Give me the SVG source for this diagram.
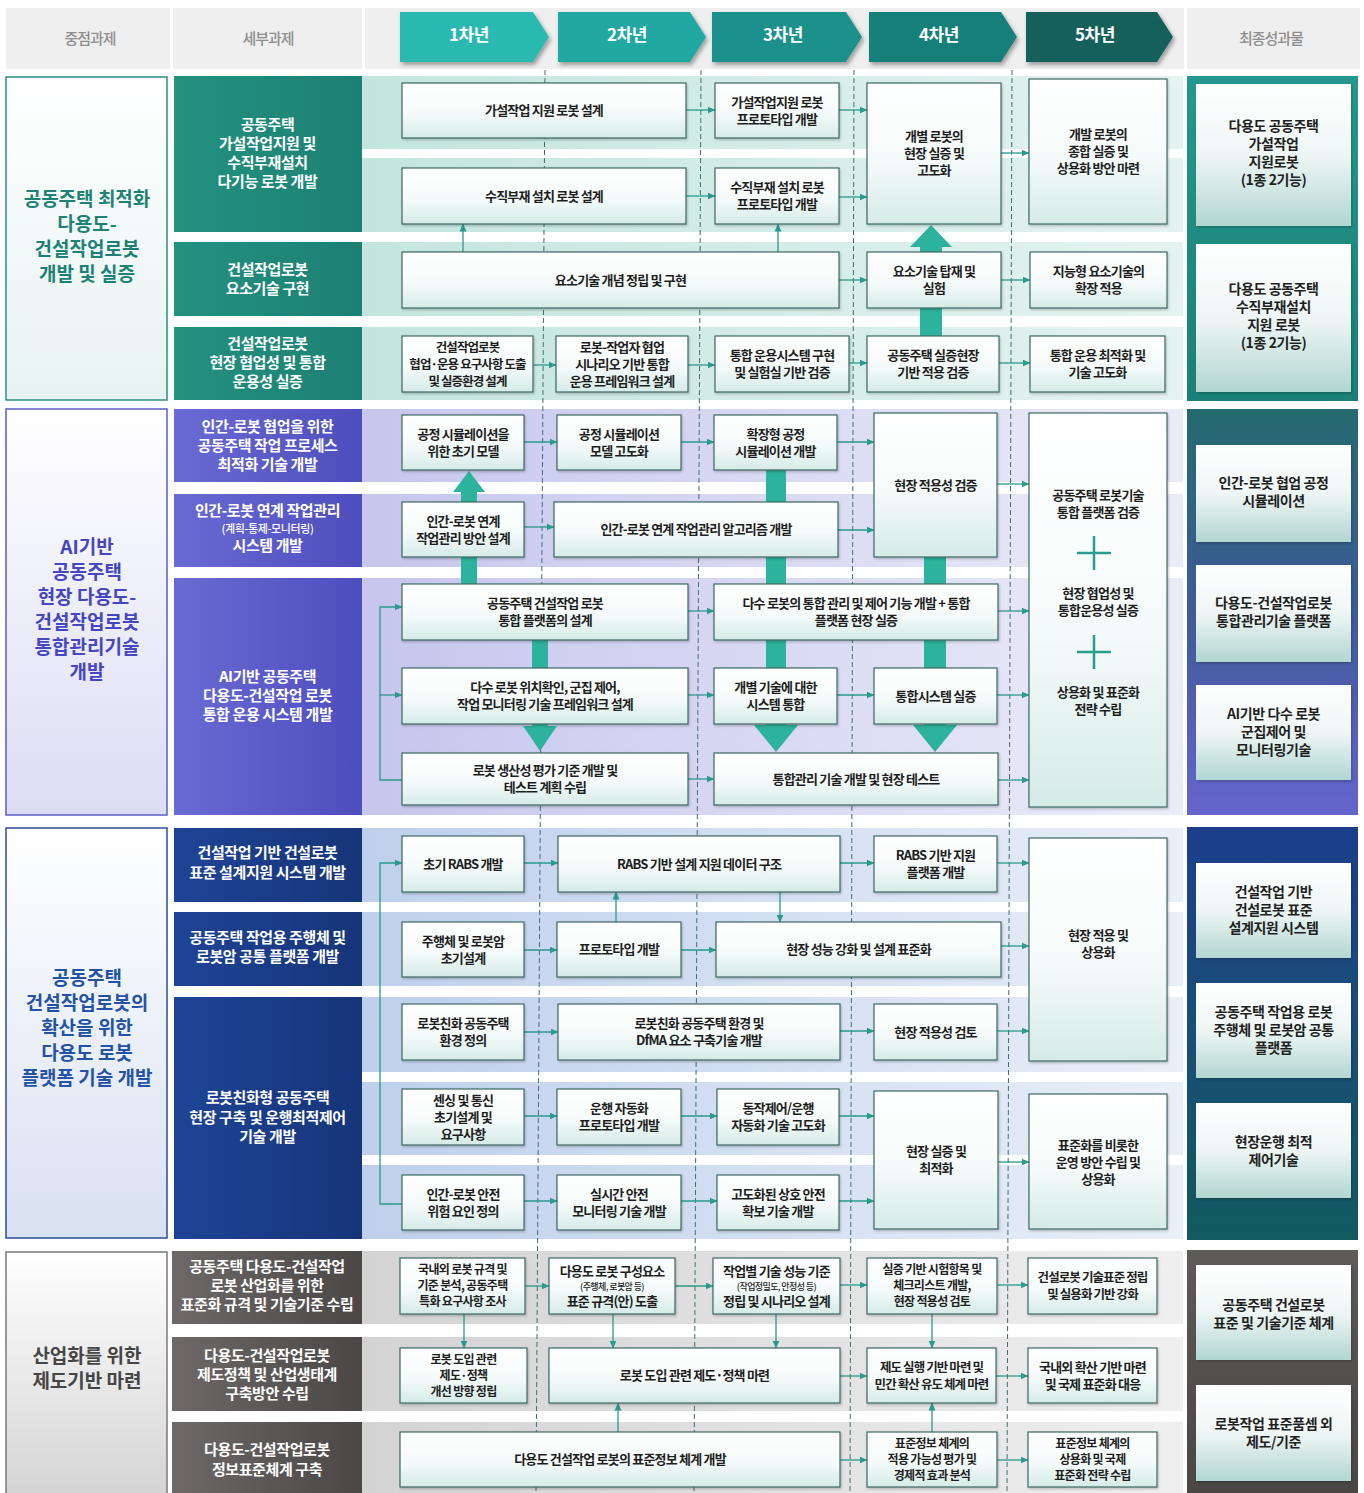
<svg xmlns="http://www.w3.org/2000/svg" width="1364" height="1493" viewBox="0 0 1364 1493">
<defs>
<style>
text{font-family:"Noto Sans CJK KR","Noto Sans",sans-serif;font-weight:700;}
.hd{font-size:15px;fill:#8e8e8e;text-anchor:middle;letter-spacing:-1px;font-weight:500}
.yr{font-size:17px;fill:#ffffff;text-anchor:middle;letter-spacing:-0.5px}
.mt{font-size:19px;text-anchor:middle;letter-spacing:0px}
.st{font-size:15px;fill:#ffffff;text-anchor:middle;letter-spacing:-0.4px}
.nd rect{fill:url(#gNode);stroke:#3d6864;stroke-width:1.2;filter:url(#sh)}
.nd text{font-size:13px;fill:#1e1e1e;text-anchor:middle;letter-spacing:-0.8px}
.nd text.s12{font-size:12.5px;letter-spacing:-0.9px}
.nd text.s11{font-size:12px;letter-spacing:-0.7px}
.nd text.s9{font-size:9px;letter-spacing:-0.6px;font-weight:500}
.dl rect{fill:url(#gDel);filter:url(#sh)}
.dl text{font-size:14px;fill:#1f1f1f;text-anchor:middle;letter-spacing:-0.4px}
.ln{fill:none;stroke:#2a9a8c;stroke-width:1.3;marker-end:url(#ah)}
.big{fill:#2db39d}
.dash{stroke:#3f6f6c;stroke-width:1;stroke-dasharray:5 3}
.plus{stroke:#2a9d8f;stroke-width:2.5}
</style>
<linearGradient id="gNode" x1="0" y1="0" x2="0" y2="1"><stop offset="0" stop-color="#ffffff"/><stop offset="0.55" stop-color="#f5fbfa"/><stop offset="1" stop-color="#d5ebe7"/></linearGradient>
<linearGradient id="gDel" x1="0" y1="0" x2="0" y2="1"><stop offset="0" stop-color="#ffffff"/><stop offset="0.5" stop-color="#eef6f5"/><stop offset="1" stop-color="#b2d6d1"/></linearGradient>
<linearGradient id="gR1" x1="0" y1="0" x2="1" y2="0"><stop offset="0" stop-color="#c4e5df"/><stop offset="1" stop-color="#e4f3f0"/></linearGradient>
<linearGradient id="gR2" x1="0" y1="0" x2="1" y2="0"><stop offset="0" stop-color="#c6c6ee"/><stop offset="1" stop-color="#ececf9"/></linearGradient>
<linearGradient id="gR3" x1="0" y1="0" x2="1" y2="0"><stop offset="0" stop-color="#bfd0ec"/><stop offset="1" stop-color="#e9eff8"/></linearGradient>
<linearGradient id="gR4" x1="0" y1="0" x2="1" y2="0"><stop offset="0" stop-color="#d3d3d3"/><stop offset="1" stop-color="#efefef"/></linearGradient>
<linearGradient id="gS1" x1="0" y1="0" x2="1" y2="0"><stop offset="0" stop-color="#24917f"/><stop offset="1" stop-color="#1c8074"/></linearGradient>
<linearGradient id="gS2" x1="0" y1="0" x2="1" y2="0"><stop offset="0" stop-color="#6a6ad4"/><stop offset="1" stop-color="#4d4ebd"/></linearGradient>
<linearGradient id="gS3" x1="0" y1="0" x2="1" y2="0"><stop offset="0" stop-color="#1f4496"/><stop offset="1" stop-color="#163579"/></linearGradient>
<linearGradient id="gS4" x1="0" y1="0" x2="1" y2="0"><stop offset="0" stop-color="#6e6868"/><stop offset="1" stop-color="#4b4747"/></linearGradient>
<linearGradient id="gL1" x1="0" y1="0" x2="0" y2="1"><stop offset="0" stop-color="#ffffff"/><stop offset="1" stop-color="#e6f3f1"/></linearGradient>
<linearGradient id="gL2" x1="0" y1="0" x2="0" y2="1"><stop offset="0" stop-color="#ffffff"/><stop offset="1" stop-color="#dcdcf4"/></linearGradient>
<linearGradient id="gL3" x1="0" y1="0" x2="0" y2="1"><stop offset="0" stop-color="#ffffff"/><stop offset="1" stop-color="#d8e1f1"/></linearGradient>
<linearGradient id="gL4" x1="0" y1="0" x2="0" y2="1"><stop offset="0" stop-color="#ffffff"/><stop offset="1" stop-color="#d4d4d4"/></linearGradient>
<linearGradient id="gP1" x1="0" y1="0" x2="0" y2="1"><stop offset="0" stop-color="#25978c"/><stop offset="1" stop-color="#1a8076"/></linearGradient>
<linearGradient id="gP2" x1="0" y1="0" x2="0" y2="1"><stop offset="0" stop-color="#246a6e"/><stop offset="0.5" stop-color="#3f5a98"/><stop offset="1" stop-color="#6565cc"/></linearGradient>
<linearGradient id="gP3" x1="0" y1="0" x2="0" y2="1"><stop offset="0" stop-color="#1c3f8c"/><stop offset="0.45" stop-color="#1a4c78"/><stop offset="1" stop-color="#115a5e"/></linearGradient>
<linearGradient id="gP4" x1="0" y1="0" x2="0" y2="1"><stop offset="0" stop-color="#5e5a5a"/><stop offset="1" stop-color="#4a4646"/></linearGradient>
<filter id="sh" x="-5%" y="-5%" width="115%" height="120%"><feDropShadow dx="1" dy="1.5" stdDeviation="1" flood-color="#000000" flood-opacity="0.22"/></filter>
<filter id="ash" x="-10%" y="-20%" width="125%" height="150%"><feDropShadow dx="2" dy="3" stdDeviation="2" flood-color="#000000" flood-opacity="0.35"/></filter>
<marker id="ah" viewBox="0 0 8 8" refX="7.5" refY="4" markerWidth="8" markerHeight="8" markerUnits="userSpaceOnUse" orient="auto"><path d="M0,0.5 L8,4 L0,7.5 Z" fill="#2a9a8c"/></marker>
</defs>

<rect width="1364" height="1493" fill="#ffffff"/>

<!-- header band -->
<g id="header">
<rect x="6" y="8" width="1354" height="61" fill="#efefef"/>
<rect x="170" y="8" width="3" height="61" fill="#ffffff"/>
<rect x="362" y="8" width="3" height="61" fill="#ffffff"/>
<rect x="1184" y="8" width="3" height="61" fill="#ffffff"/>
<text class="hd" x="90" y="44">중점과제</text>
<text class="hd" x="268" y="44">세부과제</text>
<text class="hd" x="1271" y="44">최종성과물</text>
<g filter="url(#ash)">
<path d="M400,12 H533 L549,37 L533,62 H400 Z" fill="#2bb9b1"/>
<path d="M558,12 H690 L706,37 L690,62 H558 Z" fill="#24a8a3"/>
<path d="M712,12 H846 L862,37 L846,62 H712 Z" fill="#1c918b"/>
<path d="M869,12 H1001 L1017,37 L1001,62 H869 Z" fill="#177f79"/>
<path d="M1026,12 H1157 L1173,37 L1157,62 H1026 Z" fill="#12615b"/>
</g>
<text class="yr" x="469" y="41">1차년</text>
<text class="yr" x="627" y="41">2차년</text>
<text class="yr" x="783" y="41">3차년</text>
<text class="yr" x="939" y="41">4차년</text>
<text class="yr" x="1095" y="41">5차년</text>
</g>

<!-- section 1: 공동주택 최적화 -->
<g id="sec1">
<rect x="362" y="76" width="821" height="73" fill="url(#gR1)"/>
<rect x="362" y="158" width="821" height="74" fill="url(#gR1)"/>
<rect x="362" y="242" width="821" height="74" fill="url(#gR1)"/>
<rect x="362" y="327" width="821" height="73" fill="url(#gR1)"/>
<rect x="6" y="77" width="161" height="323" fill="url(#gL1)" stroke="#2a8f82" stroke-width="1.5"/>
<text class="mt" fill="#1d8275"><tspan x="87" y="206">공동주택 최적화</tspan><tspan x="87" y="231">다용도-</tspan><tspan x="87" y="256">건설작업로봇</tspan><tspan x="87" y="281">개발 및 실증</tspan></text>
<rect x="174" y="76" width="188" height="156" fill="url(#gS1)"/>
<rect x="174" y="242" width="188" height="74" fill="url(#gS1)"/>
<rect x="174" y="327" width="188" height="73" fill="url(#gS1)"/>
<text class="st"><tspan x="267.5" y="130">공동주택</tspan><tspan x="267.5" y="149">가설작업지원 및</tspan><tspan x="267.5" y="168">수직부재설치</tspan><tspan x="267.5" y="187">다기능 로봇 개발</tspan></text>
<text class="st"><tspan x="267.5" y="275">건설작업로봇</tspan><tspan x="267.5" y="294">요소기술 구현</tspan></text>
<text class="st"><tspan x="267.5" y="349">건설작업로봇</tspan><tspan x="267.5" y="368">현장 협업성 및 통합</tspan><tspan x="267.5" y="387">운용성 실증</tspan></text>
<rect x="1187" y="76" width="171" height="325" fill="url(#gP1)"/>
</g>

<!-- section 2: AI기반 통합관리 -->
<g id="sec2">
<rect x="362" y="409" width="821" height="73" fill="url(#gR2)"/>
<rect x="362" y="494" width="821" height="73" fill="url(#gR2)"/>
<rect x="362" y="578" width="821" height="237" fill="url(#gR2)"/>
<rect x="6" y="409" width="161" height="406" fill="url(#gL2)" stroke="#5b5bc5" stroke-width="1.5"/>
<text class="mt" fill="#4646c0"><tspan x="87" y="554">AI기반</tspan><tspan x="87" y="579">공동주택</tspan><tspan x="87" y="604">현장 다용도-</tspan><tspan x="87" y="629">건설작업로봇</tspan><tspan x="87" y="654">통합관리기술</tspan><tspan x="87" y="679">개발</tspan></text>
<rect x="174" y="409" width="188" height="73" fill="url(#gS2)"/>
<rect x="174" y="494" width="188" height="73" fill="url(#gS2)"/>
<rect x="174" y="578" width="188" height="237" fill="url(#gS2)"/>
<text class="st"><tspan x="267.5" y="432">인간-로봇 협업을 위한</tspan><tspan x="267.5" y="451">공동주택 작업 프로세스</tspan><tspan x="267.5" y="470">최적화 기술 개발</tspan></text>
<text class="st"><tspan x="267.5" y="516">인간-로봇 연계 작업관리</tspan><tspan x="267.5" y="533" style="font-size:11px;font-weight:500">(계획-통제-모니터링)</tspan><tspan x="267.5" y="551">시스템 개발</tspan></text>
<text class="st"><tspan x="267.5" y="682">AI기반 공동주택</tspan><tspan x="267.5" y="701">다용도-건설작업 로봇</tspan><tspan x="267.5" y="720">통합 운용 시스템 개발</tspan></text>
<rect x="1187" y="409" width="171" height="406" fill="url(#gP2)"/>
</g>

<!-- section 3: 다용도 로봇 플랫폼 -->
<g id="sec3">
<rect x="362" y="828" width="821" height="74" fill="url(#gR3)"/>
<rect x="362" y="912" width="821" height="74" fill="url(#gR3)"/>
<rect x="362" y="997" width="821" height="75" fill="url(#gR3)"/>
<rect x="362" y="1082" width="821" height="73" fill="url(#gR3)"/>
<rect x="362" y="1165" width="821" height="74" fill="url(#gR3)"/>
<rect x="6" y="828" width="161" height="410" fill="url(#gL3)" stroke="#2a4d94" stroke-width="1.5"/>
<text class="mt" fill="#2453a6"><tspan x="87" y="985">공동주택</tspan><tspan x="87" y="1010">건설작업로봇의</tspan><tspan x="87" y="1035">확산을 위한</tspan><tspan x="87" y="1060">다용도 로봇</tspan><tspan x="87" y="1085">플랫폼 기술 개발</tspan></text>
<rect x="174" y="828" width="188" height="74" fill="url(#gS3)"/>
<rect x="174" y="912" width="188" height="74" fill="url(#gS3)"/>
<rect x="174" y="997" width="188" height="242" fill="url(#gS3)"/>
<text class="st"><tspan x="267.5" y="858">건설작업 기반 건설로봇</tspan><tspan x="267.5" y="878">표준 설계지원 시스템 개발</tspan></text>
<text class="st"><tspan x="267.5" y="943">공동주택 작업용 주행체 및</tspan><tspan x="267.5" y="962">로봇암 공통 플랫폼 개발</tspan></text>
<text class="st"><tspan x="267.5" y="1103">로봇친화형 공동주택</tspan><tspan x="267.5" y="1123">현장 구축 및 운행최적제어</tspan><tspan x="267.5" y="1142">기술 개발</tspan></text>
<rect x="1187" y="827" width="171" height="413" fill="url(#gP3)"/>
</g>

<!-- section 4: 산업화 제도기반 -->
<g id="sec4">
<rect x="362" y="1251" width="821" height="73" fill="url(#gR4)"/>
<rect x="362" y="1337" width="821" height="74" fill="url(#gR4)"/>
<rect x="362" y="1422" width="821" height="71" fill="url(#gR4)"/>
<rect x="6" y="1252" width="161" height="245" fill="url(#gL4)" stroke="#7a7a7a" stroke-width="1.5"/>
<text class="mt" fill="#454545"><tspan x="87" y="1363">산업화를 위한</tspan><tspan x="87" y="1388">제도기반 마련</tspan></text>
<rect x="172" y="1251" width="190" height="73" fill="url(#gS4)"/>
<rect x="172" y="1337" width="190" height="74" fill="url(#gS4)"/>
<rect x="172" y="1422" width="190" height="71" fill="url(#gS4)"/>
<text class="st"><tspan x="267" y="1272">공동주택 다용도-건설작업</tspan><tspan x="267" y="1291">로봇 산업화를 위한</tspan><tspan x="267" y="1310">표준화 규격 및 기술기준 수립</tspan></text>
<text class="st"><tspan x="267" y="1361">다용도-건설작업로봇</tspan><tspan x="267" y="1380">제도정책 및 산업생태계</tspan><tspan x="267" y="1399">구축방안 수립</tspan></text>
<text class="st"><tspan x="267" y="1455">다용도-건설작업로봇</tspan><tspan x="267" y="1475">정보표준체계 구축</tspan></text>
<rect x="1187" y="1250" width="171" height="243" fill="url(#gP4)"/>
</g>

<!-- year boundaries -->
<g id="year-lines">
<line class="dash" x1="545" y1="70" x2="536" y2="1493"/>
<line class="dash" x1="701" y1="70" x2="694" y2="1493"/>
<line class="dash" x1="854" y1="70" x2="850" y2="1493"/>
<line class="dash" x1="1012" y1="70" x2="1007" y2="1493"/>
</g>

<!-- connectors -->
<g id="connectors">
<polygon class="big" points="920,336 920,247 910,247 931,225 952,247 942,247 942,336"/>
<polygon class="big" points="461,584 461,492 453,492 469,471 485,492 477,492 477,584"/>
<polygon class="big" points="532,640 532,726 523,726 540,751 557,726 548,726 548,640"/>
<polygon class="big" points="766,470 766,725 754,725 776,752 798,725 786,725 786,470"/>
<polygon class="big" points="924,557 924,725 913,725 935,752 957,725 946,725 946,557"/>

<path class="ln" d="M686,110 H715"/>
<path class="ln" d="M686,196 H715"/>
<path class="ln" d="M839,110 H867"/>
<path class="ln" d="M839,197 H867"/>
<path class="ln" d="M1001,153 H1029"/>
<path class="ln" d="M463,252 V224"/>
<path class="ln" d="M778,252 V224"/>
<path class="ln" d="M839,280 H867"/>
<path class="ln" d="M1001,280 H1030"/>
<path class="ln" d="M533,365 H556"/>
<path class="ln" d="M688,365 H715"/>
<path class="ln" d="M849,363 H867"/>
<path class="ln" d="M999,363 H1030"/>

<path class="ln" d="M524,442 H557"/>
<path class="ln" d="M681,442 H714"/>
<path class="ln" d="M837,442 H874"/>
<path class="ln" d="M997,484 H1029"/>
<path class="ln" d="M524,527 H554"/>
<path class="ln" d="M838,530 H874"/>
<path class="ln" d="M688,611 H714"/>
<path class="ln" d="M998,611 H1029"/>
<path class="ln" d="M688,695 H714"/>
<path class="ln" d="M837,695 H874"/>
<path class="ln" d="M997,695 H1029"/>
<path class="ln" d="M688,779 H714"/>
<path class="ln" d="M998,780 H1029"/>
<path class="ln" d="M402,780 H380 V607 H402"/>
<path class="ln" d="M380,695 H402"/>

<path class="ln" d="M524,863 H558"/>
<path class="ln" d="M840,863 H874"/>
<path class="ln" d="M997,863 H1029"/>
<path class="ln" d="M616,922 V892"/>
<path class="ln" d="M780,892 V922"/>
<path class="ln" d="M524,950 H557"/>
<path class="ln" d="M681,950 H716"/>
<path class="ln" d="M1001,946 H1029"/>
<path class="ln" d="M524,1032 H558"/>
<path class="ln" d="M840,1031 H874"/>
<path class="ln" d="M997,1031 H1029"/>
<path class="ln" d="M524,1116 H557"/>
<path class="ln" d="M681,1116 H717"/>
<path class="ln" d="M839,1116 H874"/>
<path class="ln" d="M524,1201 H557"/>
<path class="ln" d="M681,1201 H717"/>
<path class="ln" d="M839,1201 H874"/>
<path class="ln" d="M998,1162 H1029"/>
<path class="ln" d="M402,1204 H380 V863 H402"/>

<path class="ln" d="M525,1286 H549"/>
<path class="ln" d="M675,1286 H713"/>
<path class="ln" d="M840,1285 H867"/>
<path class="ln" d="M997,1285 H1028"/>
<path class="ln" d="M464,1314 V1348"/>
<path class="ln" d="M613,1314 V1348"/>
<path class="ln" d="M776,1314 V1348"/>
<path class="ln" d="M932,1314 V1348"/>
<path class="ln" d="M840,1376 H867"/>
<path class="ln" d="M996,1376 H1028"/>
<path class="ln" d="M618,1432 V1403"/>
<path class="ln" d="M840,1460 H867"/>
<path class="ln" d="M932,1432 V1403"/>
<path class="ln" d="M997,1460 H1028"/>
</g>

<!-- section 1 nodes -->
<g id="n1a" class="nd"><rect x="402" y="83" width="284" height="55"/><text x="544" y="115">가설작업 지원 로봇 설계</text></g>
<g id="n1b" class="nd"><rect x="715" y="83" width="124" height="55"/><text><tspan x="777" y="106.5">가설작업지원 로봇</tspan><tspan x="777" y="123.5">프로토타입 개발</tspan></text></g>
<g id="n1c" class="nd"><rect x="402" y="168" width="284" height="56"/><text x="544" y="200.5">수직부재 설치 로봇 설계</text></g>
<g id="n1d" class="nd"><rect x="715" y="168" width="124" height="56"/><text><tspan x="777" y="192">수직부재 설치 로봇</tspan><tspan x="777" y="209">프로토타입 개발</tspan></text></g>
<g id="n1e" class="nd"><rect x="867" y="83" width="134" height="141"/><text><tspan x="934" y="141">개별 로봇의</tspan><tspan x="934" y="158">현장 실증 및</tspan><tspan x="934" y="175">고도화</tspan></text></g>
<g id="n1f" class="nd"><rect x="1029" y="79" width="138" height="145"/><text><tspan x="1098" y="139">개발 로봇의</tspan><tspan x="1098" y="156">종합 실증 및</tspan><tspan x="1098" y="173">상용화 방안 마련</tspan></text></g>
<g id="n1g" class="nd"><rect x="402" y="252" width="437" height="56"/><text x="620.5" y="284.5">요소기술 개념 정립 및 구현</text></g>
<g id="n1h" class="nd"><rect x="867" y="252" width="134" height="56"/><text><tspan x="934" y="276">요소기술 탑재 및</tspan><tspan x="934" y="293">실험</tspan></text></g>
<g id="n1i" class="nd"><rect x="1030" y="252" width="137" height="56"/><text><tspan x="1098.5" y="276">지능형 요소기술의</tspan><tspan x="1098.5" y="293">확장 적용</tspan></text></g>
<g id="n1j" class="nd"><rect x="402" y="336" width="131" height="56"/><text class="s12"><tspan x="467.5" y="351.5">건설작업로봇</tspan><tspan x="467.5" y="368.5">협업·운용 요구사항 도출</tspan><tspan x="467.5" y="385.5">및 실증환경 설계</tspan></text></g>
<g id="n1k" class="nd"><rect x="556" y="336" width="132" height="56"/><text><tspan x="622" y="351.5">로봇-작업자 협업</tspan><tspan x="622" y="368.5">시나리오 기반 통합</tspan><tspan x="622" y="385.5">운용 프레임워크 설계</tspan></text></g>
<g id="n1l" class="nd"><rect x="715" y="336" width="134" height="56"/><text><tspan x="782" y="360">통합 운용시스템 구현</tspan><tspan x="782" y="377">및 실험실 기반 검증</tspan></text></g>
<g id="n1m" class="nd"><rect x="867" y="336" width="132" height="56"/><text><tspan x="933" y="360">공동주택 실증현장</tspan><tspan x="933" y="377">기반 적용 검증</tspan></text></g>
<g id="n1n" class="nd"><rect x="1030" y="336" width="135" height="56"/><text><tspan x="1097.5" y="360">통합 운용 최적화 및</tspan><tspan x="1097.5" y="377">기술 고도화</tspan></text></g>

<!-- section 2 nodes -->
<g id="n2a" class="nd"><rect x="402" y="415" width="122" height="55"/><text><tspan x="463" y="438.5">공정 시뮬레이션을</tspan><tspan x="463" y="455.5">위한 초기 모델</tspan></text></g>
<g id="n2b" class="nd"><rect x="557" y="415" width="124" height="55"/><text><tspan x="619" y="438.5">공정 시뮬레이션</tspan><tspan x="619" y="455.5">모델 고도화</tspan></text></g>
<g id="n2c" class="nd"><rect x="714" y="415" width="123" height="55"/><text><tspan x="775.5" y="438.5">확장형 공정</tspan><tspan x="775.5" y="455.5">시뮬레이션 개발</tspan></text></g>
<g id="n2d" class="nd"><rect x="874" y="413" width="123" height="144"/><text x="935.5" y="489.5">현장 적용성 검증</text></g>
<g id="n2e" class="nd"><rect x="402" y="502" width="122" height="55"/><text><tspan x="463" y="525.5">인간-로봇 연계</tspan><tspan x="463" y="542.5">작업관리 방안 설계</tspan></text></g>
<g id="n2f" class="nd"><rect x="554" y="502" width="284" height="55"/><text x="696" y="534">인간-로봇 연계 작업관리 알고리즘 개발</text></g>
<g id="n2g" class="nd"><rect x="402" y="584" width="286" height="56"/><text><tspan x="545" y="608">공동주택 건설작업 로봇</tspan><tspan x="545" y="625">통합 플랫폼의 설계</tspan></text></g>
<g id="n2h" class="nd"><rect x="714" y="584" width="284" height="56"/><text><tspan x="856" y="608">다수 로봇의 통합 관리 및 제어 기능 개발 + 통합</tspan><tspan x="856" y="625">플랫폼 현장 실증</tspan></text></g>
<g id="n2i" class="nd"><rect x="402" y="668" width="286" height="56"/><text><tspan x="545" y="692">다수 로봇 위치확인, 군집 제어,</tspan><tspan x="545" y="709">작업 모니터링 기술 프레임워크 설계</tspan></text></g>
<g id="n2j" class="nd"><rect x="714" y="668" width="123" height="56"/><text><tspan x="775.5" y="692">개별 기술에 대한</tspan><tspan x="775.5" y="709">시스템 통합</tspan></text></g>
<g id="n2k" class="nd"><rect x="874" y="668" width="123" height="56"/><text x="935.5" y="700.5">통합시스템 실증</text></g>
<g id="n2l" class="nd"><rect x="402" y="753" width="286" height="52"/><text><tspan x="545" y="775">로봇 생산성 평가 기준 개발 및</tspan><tspan x="545" y="792">테스트 계획 수립</tspan></text></g>
<g id="n2m" class="nd"><rect x="714" y="753" width="284" height="52"/><text x="856" y="783.5">통합관리 기술 개발 및 현장 테스트</text></g>
<g id="n2n" class="nd"><rect x="1029" y="413" width="138" height="394"/><text><tspan x="1098" y="500">공동주택 로봇기술</tspan><tspan x="1098" y="517">통합 플랫폼 검증</tspan><tspan x="1098" y="598">현장 협업성 및</tspan><tspan x="1098" y="615">통합운용성 실증</tspan><tspan x="1098" y="697">상용화 및 표준화</tspan><tspan x="1098" y="714">전략 수립</tspan></text>
<path class="plus" d="M1077,553 H1111 M1094,536 V570 M1077,652 H1111 M1094,635 V669"/></g>

<!-- section 3 nodes -->
<g id="n3a" class="nd"><rect x="402" y="836" width="122" height="56"/><text x="463" y="868.5">초기 RABS 개발</text></g>
<g id="n3b" class="nd"><rect x="558" y="836" width="282" height="56"/><text x="699" y="868.5">RABS 기반 설계 지원 데이터 구조</text></g>
<g id="n3c" class="nd"><rect x="874" y="836" width="123" height="56"/><text><tspan x="935.5" y="860">RABS 기반 지원</tspan><tspan x="935.5" y="877">플랫폼 개발</tspan></text></g>
<g id="n3d" class="nd"><rect x="1029" y="838" width="138" height="223"/><text><tspan x="1098" y="940">현장 적용 및</tspan><tspan x="1098" y="957">상용화</tspan></text></g>
<g id="n3e" class="nd"><rect x="402" y="922" width="122" height="55"/><text><tspan x="463" y="945.5">주행체 및 로봇암</tspan><tspan x="463" y="962.5">초기설계</tspan></text></g>
<g id="n3f" class="nd"><rect x="557" y="922" width="124" height="55"/><text x="619" y="954">프로토타입 개발</text></g>
<g id="n3g" class="nd"><rect x="716" y="922" width="285" height="55"/><text x="858.5" y="954">현장 성능 강화 및 설계 표준화</text></g>
<g id="n3h" class="nd"><rect x="402" y="1004" width="122" height="56"/><text><tspan x="463" y="1028">로봇친화 공동주택</tspan><tspan x="463" y="1045">환경 정의</tspan></text></g>
<g id="n3i" class="nd"><rect x="558" y="1004" width="282" height="56"/><text><tspan x="699" y="1028">로봇친화 공동주택 환경 및</tspan><tspan x="699" y="1045">DfMA 요소 구축기술 개발</tspan></text></g>
<g id="n3j" class="nd"><rect x="874" y="1004" width="123" height="56"/><text x="935.5" y="1036.5">현장 적용성 검토</text></g>
<g id="n3k" class="nd"><rect x="402" y="1089" width="122" height="56"/><text><tspan x="463" y="1104.5">센싱 및 통신</tspan><tspan x="463" y="1121.5">초기설계 및</tspan><tspan x="463" y="1138.5">요구사항</tspan></text></g>
<g id="n3l" class="nd"><rect x="557" y="1089" width="124" height="56"/><text><tspan x="619" y="1113">운행 자동화</tspan><tspan x="619" y="1130">프로토타입 개발</tspan></text></g>
<g id="n3m" class="nd"><rect x="717" y="1089" width="122" height="56"/><text><tspan x="778" y="1113">동작제어/운행</tspan><tspan x="778" y="1130">자동화 기술 고도화</tspan></text></g>
<g id="n3n" class="nd"><rect x="874" y="1091" width="124" height="138"/><text><tspan x="936" y="1156">현장 실증 및</tspan><tspan x="936" y="1173">최적화</tspan></text></g>
<g id="n3o" class="nd"><rect x="1029" y="1094" width="138" height="135"/><text><tspan x="1098" y="1149.5">표준화를 비롯한</tspan><tspan x="1098" y="1166.5">운영 방안 수립 및</tspan><tspan x="1098" y="1183.5">상용화</tspan></text></g>
<g id="n3p" class="nd"><rect x="402" y="1175" width="122" height="55"/><text><tspan x="463" y="1198.5">인간-로봇 안전</tspan><tspan x="463" y="1215.5">위험 요인 정의</tspan></text></g>
<g id="n3q" class="nd"><rect x="557" y="1175" width="124" height="55"/><text><tspan x="619" y="1198.5">실시간 안전</tspan><tspan x="619" y="1215.5">모니터링 기술 개발</tspan></text></g>
<g id="n3r" class="nd"><rect x="717" y="1175" width="122" height="55"/><text><tspan x="778" y="1198.5">고도화된 상호 안전</tspan><tspan x="778" y="1215.5">확보 기술 개발</tspan></text></g>

<!-- section 4 nodes -->
<g id="n4a" class="nd"><rect x="400" y="1258" width="125" height="56"/><text class="s11"><tspan x="462.5" y="1274">국내외 로봇 규격 및</tspan><tspan x="462.5" y="1290">기준 분석, 공동주택</tspan><tspan x="462.5" y="1306">특화 요구사항 조사</tspan></text></g>
<g id="n4b" class="nd"><rect x="549" y="1258" width="126" height="56"/><text x="612" y="1276">다용도 로봇 구성요소</text><text class="s9" x="612" y="1290">(주행체, 로봇암 등)</text><text x="612" y="1306">표준 규격(안) 도출</text></g>
<g id="n4c" class="nd"><rect x="713" y="1258" width="127" height="56"/><text x="776.5" y="1276">작업별 기술 성능 기준</text><text class="s9" x="776.5" y="1290">(작업정밀도, 안정성 등)</text><text x="776.5" y="1306">정립 및 시나리오 설계</text></g>
<g id="n4d" class="nd"><rect x="867" y="1258" width="130" height="56"/><text class="s11"><tspan x="932" y="1274">실증 기반 시험항목 및</tspan><tspan x="932" y="1290">체크리스트 개발,</tspan><tspan x="932" y="1306">현장 적용성 검토</tspan></text></g>
<g id="n4e" class="nd"><rect x="1028" y="1258" width="129" height="56"/><text class="s12"><tspan x="1092.5" y="1282">건설로봇 기술표준 정립</tspan><tspan x="1092.5" y="1299">및 실용화 기반 강화</tspan></text></g>
<g id="n4f" class="nd"><rect x="400" y="1348" width="127" height="55"/><text class="s11"><tspan x="463.5" y="1364">로봇 도입 관련</tspan><tspan x="463.5" y="1380">제도·정책</tspan><tspan x="463.5" y="1396">개선 방향 정립</tspan></text></g>
<g id="n4g" class="nd"><rect x="549" y="1348" width="291" height="55"/><text x="694.5" y="1380">로봇 도입 관련 제도·정책 마련</text></g>
<g id="n4h" class="nd"><rect x="867" y="1348" width="129" height="55"/><text class="s12"><tspan x="931.5" y="1371.5">제도 실행 기반 마련 및</tspan><tspan x="931.5" y="1388.5">민간 확산 유도 체계 마련</tspan></text></g>
<g id="n4i" class="nd"><rect x="1028" y="1348" width="129" height="55"/><text><tspan x="1092.5" y="1371.5">국내외 확산 기반 마련</tspan><tspan x="1092.5" y="1388.5">및 국제 표준화 대응</tspan></text></g>
<g id="n4j" class="nd"><rect x="400" y="1432" width="440" height="55"/><text x="620" y="1464">다용도 건설작업 로봇의 표준정보 체계 개발</text></g>
<g id="n4k" class="nd"><rect x="867" y="1432" width="130" height="55"/><text class="s11"><tspan x="932" y="1448">표준정보 체계의</tspan><tspan x="932" y="1464">적용 가능성 평가 및</tspan><tspan x="932" y="1480">경제적 효과 분석</tspan></text></g>
<g id="n4l" class="nd"><rect x="1028" y="1432" width="129" height="55"/><text class="s11"><tspan x="1092.5" y="1448">표준정보 체계의</tspan><tspan x="1092.5" y="1464">상용화 및 국제</tspan><tspan x="1092.5" y="1480">표준화 전략 수립</tspan></text></g>

<!-- final deliverables -->
<g id="d1" class="dl"><rect x="1196" y="84" width="155" height="142"/><text><tspan x="1273.5" y="131">다용도 공동주택</tspan><tspan x="1273.5" y="149">가설작업</tspan><tspan x="1273.5" y="167">지원로봇</tspan><tspan x="1273.5" y="185">(1종 2기능)</tspan></text></g>
<g id="d2" class="dl"><rect x="1196" y="244" width="155" height="148"/><text><tspan x="1273.5" y="294">다용도 공동주택</tspan><tspan x="1273.5" y="312">수직부재설치</tspan><tspan x="1273.5" y="330">지원 로봇</tspan><tspan x="1273.5" y="348">(1종 2기능)</tspan></text></g>
<g id="d3" class="dl"><rect x="1196" y="445" width="155" height="97"/><text><tspan x="1273.5" y="488">인간-로봇 협업 공정</tspan><tspan x="1273.5" y="506">시뮬레이션</tspan></text></g>
<g id="d4" class="dl"><rect x="1196" y="565" width="155" height="97"/><text><tspan x="1273.5" y="608">다용도-건설작업로봇</tspan><tspan x="1273.5" y="626">통합관리기술 플랫폼</tspan></text></g>
<g id="d5" class="dl"><rect x="1196" y="685" width="155" height="95"/><text><tspan x="1273.5" y="719">AI기반 다수 로봇</tspan><tspan x="1273.5" y="737">군집제어 및</tspan><tspan x="1273.5" y="755">모니터링기술</tspan></text></g>
<g id="d6" class="dl"><rect x="1196" y="863" width="155" height="95"/><text><tspan x="1273.5" y="897">건설작업 기반</tspan><tspan x="1273.5" y="915">건설로봇 표준</tspan><tspan x="1273.5" y="933">설계지원 시스템</tspan></text></g>
<g id="d7" class="dl"><rect x="1196" y="983" width="155" height="95"/><text><tspan x="1273.5" y="1017">공동주택 작업용 로봇</tspan><tspan x="1273.5" y="1035">주행체 및 로봇암 공통</tspan><tspan x="1273.5" y="1053">플랫폼</tspan></text></g>
<g id="d8" class="dl"><rect x="1196" y="1103" width="155" height="95"/><text><tspan x="1273.5" y="1147">현장운행 최적</tspan><tspan x="1273.5" y="1165">제어기술</tspan></text></g>
<g id="d9" class="dl"><rect x="1196" y="1265" width="155" height="95"/><text><tspan x="1273.5" y="1310">공동주택 건설로봇</tspan><tspan x="1273.5" y="1328">표준 및 기술기준 체계</tspan></text></g>
<g id="d10" class="dl"><rect x="1196" y="1385" width="155" height="96"/><text><tspan x="1273.5" y="1429">로봇작업 표준품셈 외</tspan><tspan x="1273.5" y="1447">제도/기준</tspan></text></g>
</svg>
